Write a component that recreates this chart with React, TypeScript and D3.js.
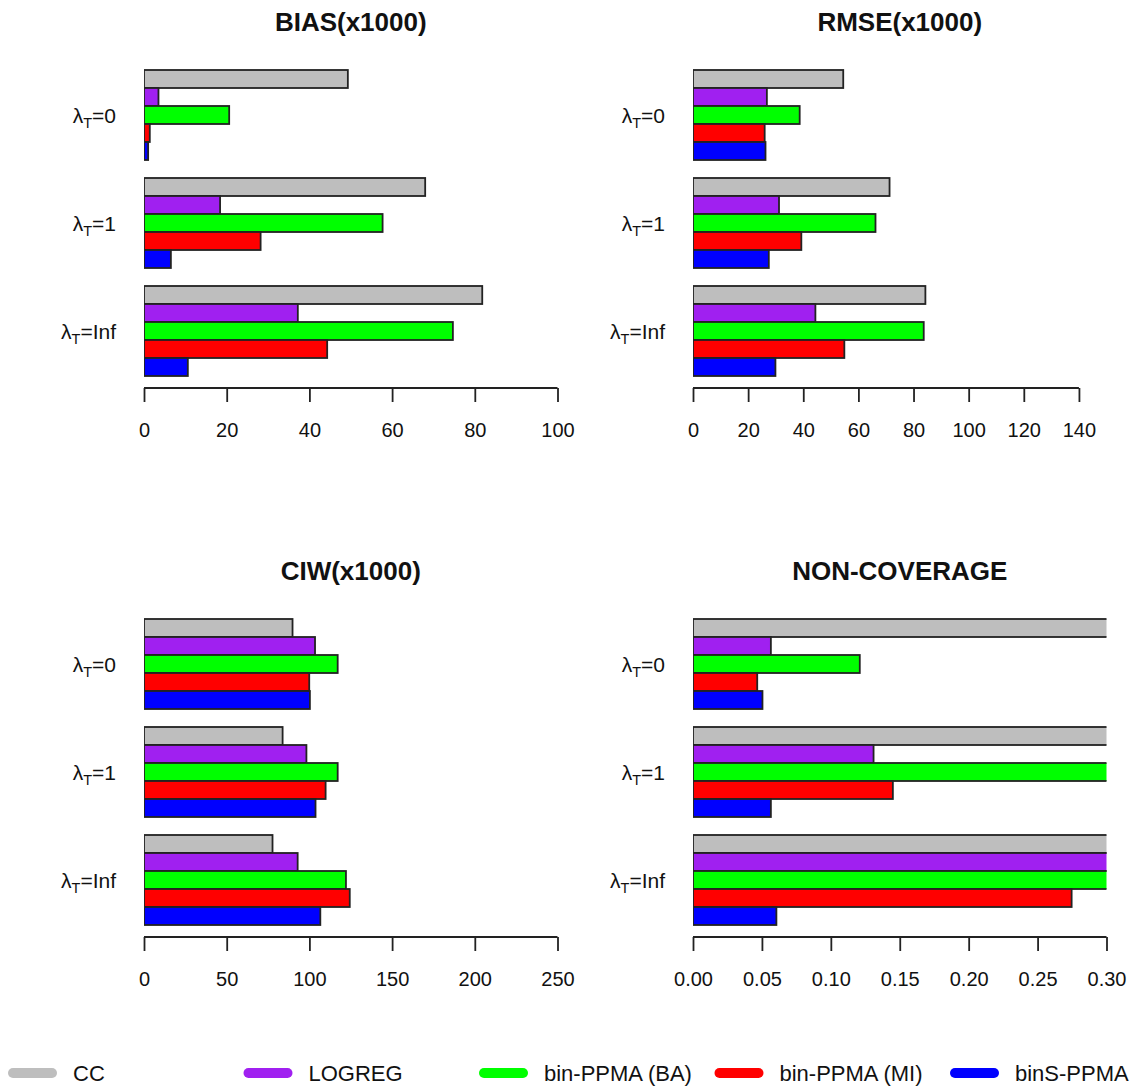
import React, { useEffect, useRef } from "react";
import * as d3 from "d3";

// Methods compared in every panel, drawn top to bottom within a group
const methods = ["CC", "LOGREG", "bin-PPMA (BA)", "bin-PPMA (MI)", "binS-PPMA"];
const methodColors = ["#BEBEBE", "#A020F0", "#00FF00", "#FF0000", "#0000FF"];

// Values of lambda_T (groups, top to bottom)
const lambdaLevels = ["0", "1", "Inf"];

// One row per lambda_T level, one entry per method
const biasValues = [
  [49.3, 3.5, 20.6, 1.4, 1.0],
  [68.0, 18.4, 57.7, 28.2, 6.5],
  [81.8, 37.2, 74.7, 44.3, 10.6],
];
const rmseValues = [
  [54.5, 26.8, 38.7, 26.0, 26.3],
  [71.3, 31.2, 66.2, 39.3, 27.5],
  [84.3, 44.4, 83.7, 54.9, 29.9],
];
const ciwValues = [
  [89.8, 103.4, 117.1, 99.9, 100.3],
  [83.8, 98.2, 117.1, 109.8, 103.7],
  [77.7, 92.9, 122.1, 124.4, 106.6],
];
// Several rates run past the 0.30 axis limit and are cut at the plot edge
const nonCoverageValues = [
  [0.42, 0.0565, 0.121, 0.0466, 0.0504],
  [0.51, 0.131, 0.36, 0.145, 0.0565],
  [0.63, 0.41, 0.47, 0.2747, 0.0605],
];

const biasTicks = [0, 20, 40, 60, 80, 100];
const rmseTicks = [0, 20, 40, 60, 80, 100, 120, 140];
const ciwTicks = [0, 50, 100, 150, 200, 250];
const nonCoverageTicks = [0, 0.05, 0.1, 0.15, 0.2, 0.25, 0.3];

type PanelSpec = {
  id: string;
  title: string;
  values: number[][];
  xMax: number;
  ticks: number[];
  format: (v: number) => string;
  left: number;
  top: number;
};

const PLOT_W = 413.5;
const GROUP_SPAN = 306;
const FONT = "'Liberation Sans', Arial, Helvetica, sans-serif";

const panels: PanelSpec[] = [
  { id: "bias", title: "BIAS(x1000)", values: biasValues, xMax: 100, ticks: biasTicks, format: d3.format("d"), left: 144, top: 70 },
  { id: "rmse", title: "RMSE(x1000)", values: rmseValues, xMax: 150, ticks: rmseTicks, format: d3.format("d"), left: 693, top: 70 },
  { id: "ciw", title: "CIW(x1000)", values: ciwValues, xMax: 250, ticks: ciwTicks, format: d3.format("d"), left: 144, top: 619 },
  { id: "nc", title: "NON-COVERAGE", values: nonCoverageValues, xMax: 0.3, ticks: nonCoverageTicks, format: d3.format(".2f"), left: 693, top: 619 },
];

function Panel({ spec }: { spec: PanelSpec }) {
  const axisRef = useRef<SVGGElement>(null);
  const x = d3.scaleLinear().domain([0, spec.xMax]).range([spec.left, spec.left + PLOT_W]);
  const yGroup = d3
    .scaleBand<string>()
    .domain(lambdaLevels)
    .range([spec.top, spec.top + GROUP_SPAN])
    .paddingInner(1 / 6)
    .paddingOuter(0);
  const yBar = d3.scaleBand<string>().domain(methods).range([0, yGroup.bandwidth()]).padding(0);
  const axisY = spec.top + GROUP_SPAN + 12;

  useEffect(() => {
    if (!axisRef.current) return;
    const g = d3.select(axisRef.current);
    g.selectAll("*").remove();
    g.call(
      d3
        .axisBottom(x)
        .tickValues(spec.ticks)
        .tickSize(14)
        .tickPadding(21)
        .tickSizeOuter(0)
        .tickFormat((d) => spec.format(d as number))
    );
    g.select(".domain").remove();
    g.append("line")
      .attr("x1", x(spec.ticks[0]))
      .attr("x2", x(spec.ticks[spec.ticks.length - 1]))
      .attr("stroke", "#222")
      .attr("stroke-width", 1.8);
    g.selectAll(".tick line").attr("stroke", "#222").attr("stroke-width", 1.8);
    g.selectAll(".tick text")
      .attr("fill", "#111")
      .attr("font-size", 20)
      .attr("font-family", FONT);
  });

  const clipId = `clip-${spec.id}`;
  return (
    <g>
      <defs>
        <clipPath id={clipId}>
          <rect x={spec.left} y={spec.top - 10} width={PLOT_W} height={GROUP_SPAN + 20} />
        </clipPath>
      </defs>
      <text
        x={spec.left + PLOT_W / 2}
        y={spec.top - 39}
        textAnchor="middle"
        fontFamily={FONT}
        fontWeight="bold"
        fontSize={26}
        fill="#111"
      >
        {spec.title}
      </text>
      <g clipPath={`url(#${clipId})`}>
        {lambdaLevels.map((lev, gi) =>
          methods.map((m, mi) => (
            <rect
              key={`${lev}-${m}`}
              x={x(0)}
              y={(yGroup(lev) as number) + (yBar(m) as number)}
              width={x(spec.values[gi][mi]) - x(0)}
              height={yBar.bandwidth()}
              fill={methodColors[mi]}
              stroke="#222"
              strokeWidth={1.8}
            />
          ))
        )}
      </g>
      {lambdaLevels.map((lev) => (
        <text
          key={lev}
          x={spec.left - 28}
          y={(yGroup(lev) as number) + yGroup.bandwidth() / 2 + 7.5}
          textAnchor="end"
          fontFamily={FONT}
          fontSize={21}
          fill="#111"
        >
          λ
          <tspan dy={5} fontSize={14.5}>
            T
          </tspan>
          <tspan dy={-5}>={lev}</tspan>
        </text>
      ))}
      <g ref={axisRef} transform={`translate(0,${axisY})`} />
    </g>
  );
}

function Legend() {
  const y = 1073;
  const step = 235.5;
  return (
    <g>
      {methods.map((m, i) => {
        const x0 = 8 + i * step;
        return (
          <g key={m}>
            <line
              x1={x0 + 5}
              x2={x0 + 44}
              y1={y}
              y2={y}
              stroke={methodColors[i]}
              strokeWidth={10}
              strokeLinecap="round"
            />
            <text x={x0 + 65} y={y + 8} fontFamily={FONT} fontSize={22} fill="#111">
              {m}
            </text>
          </g>
        );
      })}
    </g>
  );
}

export default function App() {
  return (
    <svg
      width={1136}
      height={1092}
      style={{ position: "absolute", left: 0, top: 0, background: "#fff" }}
    >
      <rect width={1136} height={1092} fill="#fff" />
      {panels.map((p) => (
        <Panel key={p.id} spec={p} />
      ))}
      <Legend />
    </svg>
  );
}
